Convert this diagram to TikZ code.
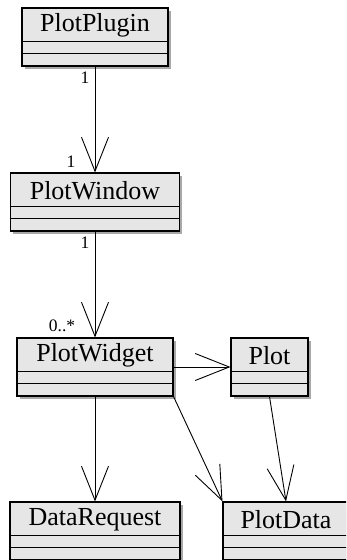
\documentclass[tikz,border=0pt]{standalone}
\usepackage{fontspec}
\setmainfont{Liberation Serif}
\usetikzlibrary{arrows.meta,shadows,calc}
\definecolor{boxgray}{HTML}{E6E6E6}
\definecolor{shadowgray}{HTML}{A8A8A8}
\tikzset{
  clsbox/.style={draw, line width=1.1pt, fill=boxgray, minimum height=58pt, inner sep=0pt,
    drop shadow={shadow xshift=2.5pt,shadow yshift=-2.5pt,fill=shadowgray,opacity=1}},
  clsname/.style={font=\fontsize{26}{30}\selectfont, inner sep=0pt},
  mult/.style={font=\fontsize{17.5}{19}\selectfont, inner sep=0pt},
  assoc/.style={line width=0.9pt, -{Straight Barb[length=34pt,width=27pt]}},
  compline/.style={line width=1.1pt},
}
\newcommand{\umlclass}[5]{%
  \node[clsbox, minimum width=#4pt] (#1) at (#2,#3+29) {};
  \node[clsname] (#1-name) at (#2,#3+17.5) {#5};
  \draw[compline] ($(#1.north west)+(0,34)$) -- ($(#1.north east)+(0,34)$);
  \draw[compline] ($(#1.north west)+(0,46)$) -- ($(#1.north east)+(0,46)$);
}
\begin{document}
\begin{tikzpicture}[x=1pt,y=-1pt]
\clip (0,0) rectangle (346,560);
\umlclass{plugin}{95}{8}{146}{PlotPlugin}
\umlclass{window}{95}{173}{169}{PlotWindow}
\umlclass{widget}{95}{338}{156}{PlotWidget}
\umlclass{plot}{269.5}{338}{77}{Plot}
\umlclass{request}{95}{502}{170}{DataRequest}
\umlclass{pdata}{286}{502}{126}{PlotData}

\draw[assoc] (plugin.south) -- (window.north);
\draw[assoc] (window.south) -- (widget.north);
\draw[assoc] (widget.east) -- (plot.west);
\draw[assoc] (widget.south) -- (request.north);
\draw[assoc] (widget.south east) -- (pdata.north west);
\draw[assoc] (plot.south) -- (pdata.north);

\node[mult] (m1) at (85,78) {1};
\node[mult] (m2) at (71,162) {1};
\node[mult] (m3) at (85,243) {1};
\node[mult] (m4) at (62,326) {0..*};
\end{tikzpicture}
\end{document}
